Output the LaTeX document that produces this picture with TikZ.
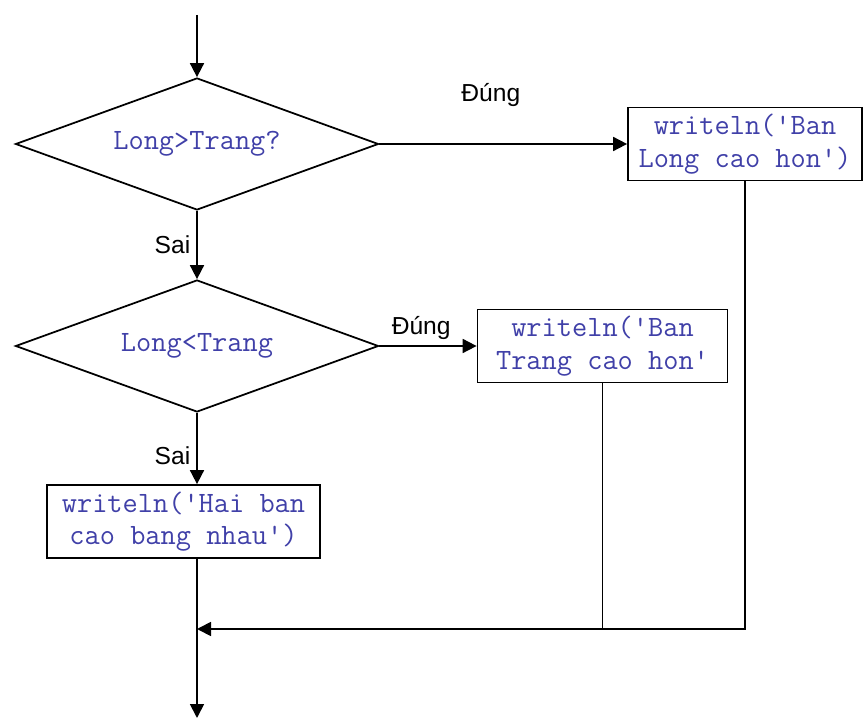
\documentclass[tikz,border=0pt]{standalone}
\usepackage{fontspec}
\setmainfont{Liberation Sans}
\usetikzlibrary{shapes.geometric,arrows.meta}
\definecolor{codeblue}{RGB}{64,64,168}

\begin{document}
\begin{tikzpicture}[>={Triangle[length=2.8mm,width=2.8mm]}, line width=1pt,
block/.style={rectangle, draw, minimum height=14.6mm, align=center, text=codeblue,
      font=\fontsize{16.8}{18.5}\selectfont\ttfamily},
decision/.style={diamond, draw, aspect=2.75, minimum width=72.6mm, minimum height=26.4mm,
      inner sep=0pt, text=codeblue, font=\fontsize{16.8}{18.5}\selectfont\ttfamily},
lbl/.style={font=\fontsize{14}{16}\selectfont}]
 \useasboundingbox (0,0) rectangle (17.3,14.52);
 \node[decision] (long) at (3.94,11.64) {Long>Trang?};
 \node[decision, below of=long, node distance=40.4mm] (trang) {Long<Trang};
 \node[block, minimum width=46.8mm, right of=long, node distance=109.6mm] (b1)
      {writeln(\textquotesingle Ban\\Long cao hon\textquotesingle)};
 \node[block, minimum width=50mm, right of=trang, node distance=81.1mm] (b2)
      {writeln(\textquotesingle Ban\\Trang cao hon\textquotesingle};
 \node[block, minimum width=54.6mm, below of=trang, node distance=35.1mm, xshift=-2.7mm] (b3)
      {writeln(\textquotesingle Hai ban\\cao bang nhau\textquotesingle)};
 \coordinate (in) at (3.94,14.22);
 \coordinate (join) at (3.94,1.94);
 \coordinate (out) at (3.94,0.16);

 \draw[->] (in) -- (long);
 \draw[->] (long) -- node[lbl, left] {Sai} (trang);
 \draw[->] (long) -- node[lbl, above=6.2mm, pos=0.45] {Đúng} (b1);
 \draw[->] (trang) -- node[lbl, above, pos=0.43] {Đúng} (b2);
 \draw[->] (trang) -- node[lbl, left, pos=0.6] {Sai} (trang.south |- b3.north);
 \draw[->] (b3.south -| trang.south) -- (out);
 \draw[->] (b1) |- (join);
 \draw (b2) -- (b2 |- join);

\end{tikzpicture}
\end{document}
